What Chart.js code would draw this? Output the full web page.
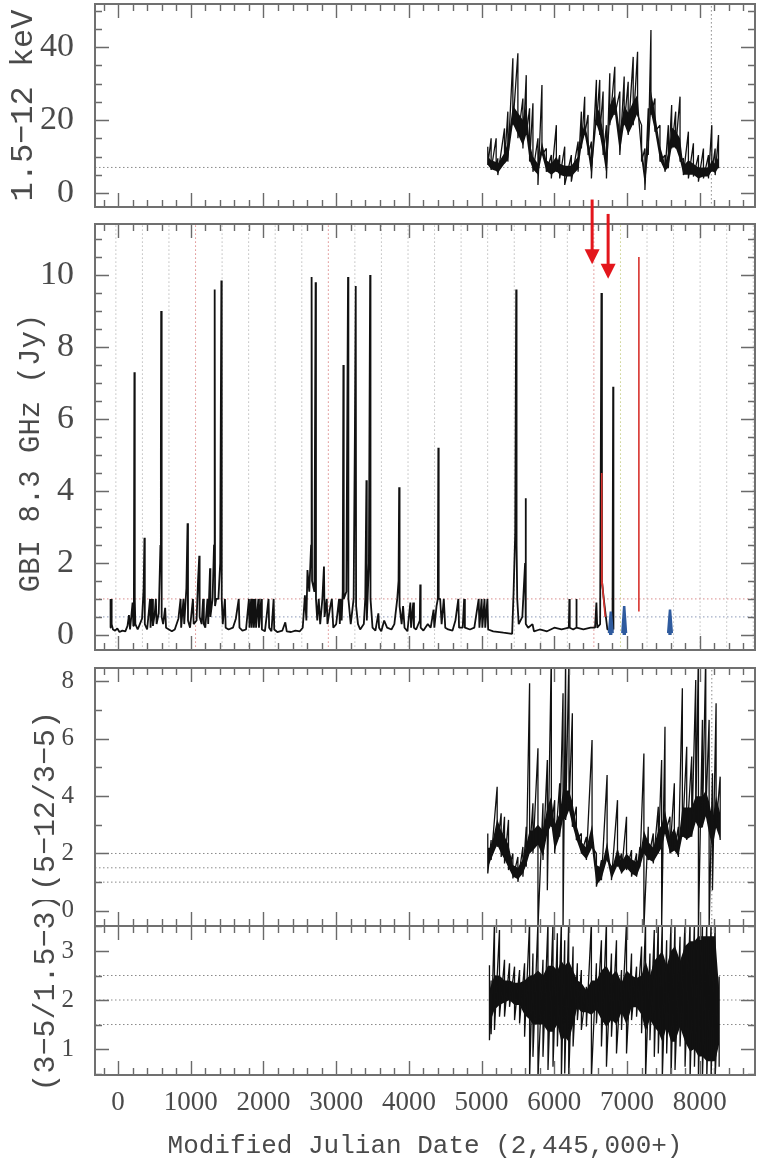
<!DOCTYPE html>
<html>
<head>
<meta charset="utf-8">
<title>GBI 8.3 GHz and X-ray light curves</title>
<script src="https://cdn.jsdelivr.net/npm/chart.js@4.4.1/dist/chart.umd.min.js"></script>
<style>
  html, body { margin: 0; padding: 0; background: #fff; }
  #wrap { position: relative; width: 759px; height: 1161px; overflow: hidden; }
  #wrap canvas { position: absolute; left: 0; }
</style>
</head>
<body>
<div id="wrap">
  <canvas id="xray" width="759" height="212" style="top:0px"></canvas>
  <canvas id="radio" width="759" height="460" style="top:195px"></canvas>
  <canvas id="hard" width="759" height="280" style="top:650px"></canvas>
  <canvas id="soft" width="759" height="261" style="top:900px"></canvas>
</div>
<script>
// ---- data (day = JD - 2,445,000) ----
const dayTicks = [0, 1000, 2000, 3000, 4000, 5000, 6000, 7000, 8000];

// 1.5-12 keV count rate: per-sample extremes and the dense core of the band
const xrayDay = [5085, 5131, 5200, 5223, 5315, 5361, 5430, 5499, 5568, 5614, 5660, 5706, 5775, 5830, 5890, 5959,
  6028, 6074, 6143, 6234, 6327, 6372, 6418, 6464, 6510, 6579, 6625, 6671, 6717, 6763, 6832, 6901, 6961, 7016,
  7085, 7145, 7200, 7246, 7292, 7329, 7384, 7453, 7522, 7568, 7614, 7669, 7729, 7775, 7844, 7913, 7982, 8051,
  8120, 8166, 8212, 8258];
const xrayHi = [12.7, 15.0, 15.0, 9.5, 17.7, 22.3, 36.9, 38.3, 25.9, 32.3, 23.2, 24.6, 15.0, 29.6, 12.2, 10.4,
  18.6, 10.4, 12.7, 10.4, 14.1, 22.3, 26.4, 21.4, 14.1, 31.0, 31.0, 27.8, 18.6, 32.8, 34.6, 27.8, 31.9, 30.5,
  37.3, 38.7, 18.6, 12.2, 23.2, 44.7, 25.9, 18.6, 10.4, 18.6, 24.1, 22.3, 26.4, 9.5, 16.8, 13.6, 10.4, 12.2,
  10.4, 18.6, 12.2, 15.9];
const xrayLo = [7.7, 6.3, 6.3, 4.9, 8.1, 8.6, 18.6, 15.0, 12.2, 15.9, 8.6, 5.8, 2.2, 10.4, 5.8, 4.0,
  5.8, 4.0, 2.2, 3.1, 5.8, 12.2, 15.9, 10.4, 4.0, 18.6, 15.9, 10.4, 4.0, 18.6, 21.4, 10.4, 18.6, 15.9,
  18.6, 21.4, 8.6, 0.8, 10.4, 21.4, 16.8, 8.6, 5.8, 6.8, 12.2, 12.2, 8.6, 4.9, 4.0, 4.5, 3.1, 4.0,
  4.0, 5.8, 4.9, 6.8];
const xrayCoreHi = [10, 9, 8.5, 8, 11, 14, 24, 22, 20, 24, 14, 10, 8, 14, 9, 8,
  10, 8, 7.5, 7.5, 10, 16, 19, 15, 9, 24, 22, 17, 10, 24, 27, 17, 24, 22,
  25, 27, 13, 6, 15, 28, 22, 13, 8, 11, 18, 17, 15, 7.5, 9, 8, 7, 7,
  7, 9, 8, 10];
const xrayCoreLo = [7.7, 6.5, 6, 5.5, 8, 9, 19, 16, 13, 16, 9, 6.5, 5, 10.5, 6, 5,
  6, 5, 4.5, 4.5, 6.5, 12.5, 16, 11, 5, 19, 16, 11, 5, 19, 22, 11, 19, 16,
  19, 22, 9, 2, 11, 22, 17, 9, 6, 7, 12.5, 12.5, 9, 5, 5, 5, 4, 4.5,
  4.5, 6, 5.5, 7];
const xrayRefY = [7];
const xrayRefDay = [8160];

// GBI 8.3 GHz flux (Jy)
const radioDay = [-110, -106, -100, -94, -88, -70, -40, -10, 20, 60, 100, 130, 150, 165, 200, 210, 218, 225, 230, 238,
  270, 300, 330, 352, 363, 368, 400, 440, 447, 470, 480, 505, 520, 530, 560, 583, 589, 593, 597, 603,
  620, 648, 660, 700, 740, 780, 830, 860, 868, 900, 910, 940, 956, 962, 990, 1030, 1040, 1080, 1100, 1117,
  1122, 1150, 1170, 1180, 1200, 1230, 1240, 1265, 1270, 1300, 1320, 1329, 1334, 1350, 1380, 1405, 1421, 1426, 1440, 1470,
  1480, 1520, 1580, 1620, 1660, 1670, 1710, 1760, 1800, 1808, 1830, 1838, 1860, 1868, 1890, 1898, 1930, 1938, 1970, 1978,
  2020, 2070, 2078, 2110, 2140, 2148, 2190, 2260, 2300, 2320, 2380, 2440, 2500, 2540, 2570, 2590, 2605, 2630, 2655, 2662,
  2668, 2700, 2717, 2722, 2740, 2760, 2780, 2810, 2832, 2840, 2870, 2880, 2920, 2940, 2960, 3000, 3040, 3050, 3060, 3075,
  3090, 3099, 3104, 3140, 3163, 3168, 3200, 3240, 3258, 3269, 3274, 3300, 3330, 3380, 3400, 3416, 3421, 3450, 3467, 3472,
  3500, 3540, 3580, 3590, 3620, 3660, 3700, 3760, 3800, 3840, 3858, 3866, 3872, 3900, 3920, 3940, 3980, 4020, 4030, 4060,
  4070, 4100, 4150, 4156, 4162, 4200, 4260, 4300, 4340, 4350, 4380, 4398, 4405, 4410, 4430, 4450, 4480, 4500, 4540, 4600,
  4640, 4680, 4690, 4740, 4760, 4770, 4840, 4900, 4960, 4970, 5000, 5010, 5040, 5050, 5080, 5090, 5160, 5300, 5420, 5440,
  5462, 5476, 5481, 5490, 5510, 5560, 5598, 5605, 5610, 5640, 5700, 5720, 5800, 5900, 6000, 6100, 6200, 6207, 6212, 6260,
  6300, 6303, 6308, 6400, 6500, 6560, 6579, 6590, 6630, 6648, 6655, 6680, 6730, 6800, 6809, 6813];
const radioFlux = [0.2, 1.0, 0.25, 1.0, 0.3, 0.15, 0.12, 0.18, 0.08, 0.12, 0.1, 0.25, 0.55, 0.15, 0.9, 0.25, 1.0, 7.3, 1.0, 0.3,
  0.15, 0.3, 0.45, 1.3, 2.7, 0.3, 0.15, 1.0, 0.2, 1.0, 0.25, 0.6, 1.0, 0.3, 0.6, 2.5, 5.0, 9.0, 2.2, 0.5,
  0.3, 0.75, 0.2, 0.15, 0.1, 0.15, 0.45, 1.0, 0.2, 1.0, 0.3, 1.3, 3.1, 0.4, 0.2, 1.0, 0.3, 0.4, 1.5, 2.2,
  0.5, 0.3, 1.0, 0.3, 0.2, 1.0, 0.3, 1.85, 0.5, 1.0, 2.5, 9.6, 0.8, 1.0, 1.0, 2.0, 9.85, 1.0, 0.3, 1.0,
  0.2, 0.15, 0.2, 0.45, 1.0, 0.2, 0.12, 0.15, 1.0, 0.2, 1.0, 0.2, 1.0, 0.2, 1.0, 0.2, 1.0, 0.2, 1.0, 0.15,
  0.1, 1.0, 0.2, 0.1, 1.0, 0.15, 0.08, 0.12, 0.35, 0.1, 0.08, 0.12, 0.1, 0.2, 1.1, 0.4, 1.8, 1.2, 2.5, 9.95,
  1.5, 1.2, 9.8, 1.0, 0.4, 1.0, 0.3, 1.0, 1.9, 0.5, 1.0, 0.3, 0.8, 1.0, 0.2, 0.3, 1.0, 0.3, 1.0, 0.4,
  1.2, 7.5, 1.0, 1.2, 9.95, 1.0, 0.3, 1.0, 5.8, 9.7, 0.8, 0.3, 0.15, 0.3, 1.0, 4.3, 0.4, 2.0, 10.0, 1.0,
  0.2, 0.12, 0.6, 0.2, 0.1, 0.4, 0.2, 0.15, 0.3, 1.0, 1.5, 4.1, 0.8, 0.3, 0.8, 0.2, 0.1, 0.9, 0.2, 0.9,
  0.2, 0.15, 0.4, 1.4, 0.2, 0.12, 0.3, 0.2, 0.7, 0.2, 0.8, 1.0, 5.2, 1.0, 1.0, 0.3, 1.0, 0.2, 0.15, 0.12,
  0.4, 1.0, 0.2, 0.2, 1.0, 0.2, 0.15, 0.2, 1.0, 0.2, 1.0, 0.2, 1.0, 0.2, 1.0, 0.15, 0.1, 0.06, 0.03, 1.2,
  2.8, 9.6, 2.5, 1.0, 0.3, 0.5, 2.0, 3.8, 0.3, 0.2, 0.3, 0.1, 0.15, 0.1, 0.2, 0.15, 0.2, 1.0, 0.2, 0.15,
  0.2, 1.0, 0.2, 0.15, 0.2, 0.2, 0.9, 0.2, 0.3, 9.5, 1.5, 1.0, 0.15, 0.12, 6.9, 0.15];
const redDay = [6645, 6652, 6656, 6700, 6900, 7163, 7163];
const redFlux = [1.4, 4.5, 1.5, 0.5, null, 0.65, 10.5];
const blueDay = [6752, 6777, 6802, 6900, 6936, 6961, 6986, 7300, 7566, 7591, 7616];
const blueFlux = [0.05, 0.65, 0.05, null, 0.05, 0.8, 0.05, null, 0.05, 0.7, 0.05];
const yearDay = [-30, 335, 700, 1431, 1796, 2161, 2527, 3257, 3622, 3988, 4353, 4718, 5083, 5449, 5814, 6179,
  7275, 7640, 8005, 8371, 8736];
const lustrumDay = [1066, 2892, 6544];
const markDay = [6910];
const fluxRefLow = [0.5];
const fluxRefHigh = [1.0];
const arrowDay = [6520, 6740];
const arrowTop = [12.1, 11.7];
const arrowTip = [10.3, 9.9];

// hardness (5-12)/(3-5)
const hardDay = [5085, 5131, 5214, 5269, 5315, 5370, 5430, 5499, 5568, 5614, 5660, 5706, 5775, 5844, 5904, 5959,
  6005, 6074, 6120, 6156, 6202, 6248, 6303, 6372, 6441, 6519, 6579, 6648, 6726, 6786, 6869, 6924, 6993, 7062,
  7131, 7177, 7232, 7292, 7361, 7430, 7476, 7522, 7591, 7651, 7706, 7761, 7821, 7890, 7945, 7982, 8037, 8083,
  8129, 8175, 8225, 8281];
const hardHi = [2.70, 2.47, 4.33, 3.40, 3.28, 3.17, 2.00, 1.88, 2.23, 2.93, 7.94, 3.75, 5.67, 3.75, 5.26, 9.0,
  3.86, 4.45, 7.59, 9.0, 9.0, 6.89, 3.63, 2.70, 2.58, 5.96, 2.00, 1.77, 4.74, 1.54, 3.86, 2.00, 3.28, 2.12,
  2.00, 2.23, 5.49, 2.93, 2.70, 3.63, 5.26, 6.42, 3.28, 4.45, 2.93, 7.76, 5.72, 5.38, 8.05, 9.0, 6.66, 9.0,
  6.66, 4.80, 7.24, 4.68];
const hardLo = [1.30, 1.77, 2.23, 1.88, 1.65, 1.42, 1.13, 1.01, 1.19, 1.54, 2.00, 2.00, -0.6, 1.77, 0.72, 2.93,
  2.00, 2.58, -0.6, 3.17, 3.52, 2.93, 2.47, 2.00, 1.77, 2.23, 0.84, 1.07, 1.77, 1.07, 1.54, 1.30, 1.42, 1.19,
  1.19, 1.54, -0.6, 1.77, 1.65, 2.00, -0.6, 2.70, 2.00, 2.12, 1.88, 2.58, 2.47, 2.58, 3.17, -0.6, 2.93, 3.40,
  -0.6, 0.72, 2.93, 2.47];
const hardCoreHi = [2.2, 2.2, 3.2, 2.8, 2.6, 2.3, 1.6, 1.5, 1.8, 2.3, 2.8, 2.8, 3.0, 2.8, 3.6, 4.0,
  3.0, 3.4, 4.2, 4.2, 4.2, 3.8, 3.0, 2.4, 2.2, 3.0, 1.6, 1.5, 2.4, 1.4, 2.2, 1.7, 2.0, 1.8,
  1.7, 1.9, 2.8, 2.4, 2.2, 2.8, 3.0, 3.5, 2.6, 2.9, 2.4, 3.6, 3.6, 3.6, 4.0, 4.0, 4.0, 4.2,
  3.8, 3.2, 4.0, 3.4];
const hardCoreLo = [1.5, 1.8, 2.3, 2.0, 1.8, 1.5, 1.2, 1.1, 1.3, 1.6, 2.0, 2.1, 2.3, 1.9, 2.7, 3.0,
  2.1, 2.6, 3.2, 3.2, 3.5, 3.0, 2.5, 2.0, 1.8, 2.2, 0.9, 1.1, 1.8, 1.1, 1.6, 1.3, 1.5, 1.3,
  1.2, 1.5, 2.0, 1.8, 1.7, 2.0, 2.2, 2.7, 2.0, 2.1, 1.9, 2.6, 2.5, 2.6, 3.1, 2.9, 2.9, 3.3,
  2.7, 2.2, 2.9, 2.5];
const hardRefY = [1, 1.5, 2];
const hardRefDay = [8166];

// softness (3-5)/(1.5-3)
const softDay = [5108, 5131, 5177, 5246, 5315, 5384, 5453, 5522, 5591, 5660, 5706, 5775, 5844, 5913, 5982, 6042,
  6097, 6143, 6198, 6258, 6317, 6372, 6441, 6510, 6579, 6648, 6717, 6786, 6855, 6924, 6993, 7062,
  7131, 7200, 7255, 7315, 7375, 7430, 7485, 7545, 7605, 7660, 7729, 7798, 7867, 7927, 7982, 8037,
  8097, 8156, 8212, 8267];
const softHi = [2.71, 2.4, 3.6, 3.43, 2.82, 2.75, 2.68, 2.61, 2.75, 3.6, 2.95, 3.6, 2.82, 3.6, 3.6, 3.36,
  3.6, 3.22, 3.6, 3.09, 2.75, 2.61, 2.27, 3.6, 2.75, 3.22, 3.6, 2.95, 3.22, 2.61, 3.6, 2.95,
  2.68, 3.09, 3.6, 2.95, 3.43, 3.6, 3.6, 3.22, 3.6, 3.6, 3.29, 3.6, 3.6, 3.6, 3.6, 3.6,
  3.6, 3.6, 3.6, 2.48];
const softLo = [1.18, 1.3, 1.39, 1.66, 1.66, 1.86, 1.59, 1.52, 1.25, 0.4, 0.84, 0.4, 0.84, 0.57, 0.64, 1.05,
  0.4, 0.5, 0.4, 1.05, 1.59, 1.39, 1.46, 0.4, 1.52, 1.05, 0.64, 1.25, 0.91, 1.39, 0.91, 1.59,
  1.66, 1.32, 0.4, 1.18, 0.84, 0.91, 0.4, 0.91, 0.4, 0.57, 1.05, 0.64, 0.4, 0.64, 0.4, 0.4,
  0.4, 0.4, 0.4, 0.64];
const softCoreHi = [2.2, 2.3, 2.5, 2.5, 2.4, 2.4, 2.35, 2.35, 2.4, 2.5, 2.5, 2.6, 2.5, 2.7, 2.7, 2.6,
  2.8, 2.7, 2.8, 2.6, 2.4, 2.35, 2.2, 2.4, 2.4, 2.6, 2.7, 2.5, 2.6, 2.35, 2.6, 2.5,
  2.45, 2.5, 2.8, 2.5, 2.8, 2.9, 3.0, 2.7, 3.0, 3.1, 2.8, 3.1, 3.2, 3.2, 3.3, 3.3,
  3.3, 3.3, 3.3, 2.2];
const softCoreLo = [1.7, 1.6, 1.8, 1.9, 1.95, 2.0, 1.9, 1.9, 1.7, 1.6, 1.5, 1.5, 1.5, 1.35, 1.35, 1.5,
  1.15, 1.25, 1.15, 1.5, 1.85, 1.75, 1.75, 1.7, 1.8, 1.6, 1.45, 1.6, 1.5, 1.75, 1.5, 1.85,
  1.85, 1.7, 1.35, 1.6, 1.45, 1.35, 1.15, 1.45, 1.15, 1.15, 1.45, 1.15, 0.95, 1.0, 0.85, 0.85,
  0.75, 0.75, 0.75, 1.1];
const softRefY = [1.5, 2, 2.5];
const softRefDay = [8166];

// ---- chart setup ----
const X_MIN = -317, X_MAX = 8760;
const INK = '#111';
const TEXT = '#4a4a4a';

const pts = (xs, ys) => xs.map((x, i) => ({ x, y: ys[i] }));
const zigzag = (xs, hi, lo) => xs.flatMap((x, i) => [{ x, y: hi[i] }, { x, y: lo[i] }]);

function line(data, color, width, extra) {
  return Object.assign({
    data, borderColor: color, borderWidth: width, pointRadius: 0, tension: 0,
    fill: false, borderJoinStyle: 'bevel', spanGaps: false, order: 1
  }, extra || {});
}
function dottedH(vals, color) {
  return vals.map(v => line([{ x: X_MIN, y: v }, { x: X_MAX, y: v }], color, 1, { borderDash: [1.5, 2.5], order: 10 }));
}
function dottedV(days, lo, hi, color) {
  return days.map(d => line([{ x: d, y: lo }, { x: d, y: hi }], color, 1, { borderDash: [1.5, 2.5], order: 10 }));
}
function band(xs, hi, lo) {
  return [
    line(pts(xs, hi), 'rgba(0,0,0,0)', 1, { fill: '+1', backgroundColor: INK, order: 2 }),
    line(pts(xs, lo), 'rgba(0,0,0,0)', 1, { order: 2 })
  ];
}

// inward tick marks on all four sides plus the frame
const frameTicks = {
  id: 'frameTicks',
  afterDraw(chart, args, o) {
    const { ctx, chartArea: a } = chart;
    const x = chart.scales.x, y = chart.scales.y;
    ctx.save();
    ctx.strokeStyle = '#6a6a6a';
    ctx.lineWidth = 1.4;
    ctx.beginPath();
    for (let v = Math.ceil(x.min / 200) * 200; v <= x.max; v += 200) {
      const px = Math.round(x.getPixelForValue(v)) + 0.5;
      const len = v % 1000 === 0 ? 14 : 7;
      ctx.moveTo(px, a.bottom); ctx.lineTo(px, a.bottom - len);
      ctx.moveTo(px, a.top); ctx.lineTo(px, a.top + len);
    }
    for (let k = Math.ceil(y.min / o.minor - 1e-6); k * o.minor <= y.max + 1e-9; k++) {
      const v = k * o.minor;
      const py = Math.round(y.getPixelForValue(v)) + 0.5;
      const r = v / o.major;
      const len = Math.abs(r - Math.round(r)) < 1e-6 ? 14 : 7;
      ctx.moveTo(a.left, py); ctx.lineTo(a.left + len, py);
      ctx.moveTo(a.right, py); ctx.lineTo(a.right - len, py);
    }
    ctx.stroke();
    ctx.lineWidth = 2;
    ctx.strokeStyle = '#707070';
    ctx.strokeRect(a.left, a.top, a.right - a.left, a.bottom - a.top);
    ctx.restore();
  }
};

// rotated y-axis captions (drawn by hand so they are not squeezed to the panel height)
const sideTitle = {
  id: 'sideTitle',
  afterDraw(chart, args, o) {
    if (!o.text) return;
    const { ctx, chartArea: a } = chart;
    ctx.save();
    ctx.translate(o.x, (a.top + a.bottom) / 2 + (o.dy || 0));
    ctx.rotate(-Math.PI / 2);
    ctx.font = o.size + 'px "Liberation Mono"';
    ctx.fillStyle = TEXT;
    ctx.textAlign = 'center';
    ctx.textBaseline = 'middle';
    ctx.fillText(o.text, 0, 0);
    ctx.restore();
  }
};

// the two red arrows above the radio flares
const arrows = {
  id: 'arrows',
  afterDraw(chart) {
    const { ctx } = chart;
    const x = chart.scales.x, y = chart.scales.y;
    ctx.save();
    ctx.strokeStyle = ctx.fillStyle = '#e3161c';
    ctx.lineWidth = 3;
    arrowDay.forEach((d, i) => {
      const px = x.getPixelForValue(d);
      const top = y.getPixelForValue(arrowTop[i]);
      const tip = y.getPixelForValue(arrowTip[i]);
      ctx.beginPath();
      ctx.moveTo(px, top); ctx.lineTo(px, tip - 12);
      ctx.stroke();
      ctx.beginPath();
      ctx.moveTo(px - 7.5, tip - 15); ctx.lineTo(px + 7.5, tip - 15); ctx.lineTo(px, tip);
      ctx.closePath();
      ctx.fill();
    });
    ctx.restore();
  }
};

function makeChart(id, datasets, o, extraPlugins) {
  return new Chart(document.getElementById(id), {
    type: 'line',
    data: { datasets },
    plugins: [frameTicks, sideTitle].concat(extraPlugins || []),
    options: {
      responsive: false,
      animation: false,
      events: [],
      layout: { padding: { top: o.padTop, bottom: o.padBottom, left: 0, right: 4 } },
      plugins: {
        legend: { display: false },
        tooltip: { enabled: false },
        frameTicks: { minor: o.minor, major: o.major },
        sideTitle: { text: o.title, size: o.titleSize, x: o.titleX, dy: o.titleDy || 0 }
      },
      scales: {
        x: {
          type: 'linear', min: X_MIN, max: X_MAX,
          display: !!o.showX,
          grid: { display: false }, border: { display: false },
          afterBuildTicks: s => { s.ticks = dayTicks.map(v => ({ value: v })); },
          ticks: {
            autoSkip: false, maxRotation: 0, minRotation: 0, padding: 4,
            color: TEXT, font: { family: 'Liberation Serif', size: 27 },
            callback: v => String(v)
          },
          title: {
            display: !!o.showX, text: 'Modified Julian Date (2,445,000+)', color: TEXT,
            font: { family: 'Liberation Mono', size: 26, lineHeight: 1 }, padding: { top: 0, bottom: 2 }
          },
          afterFit: s => { if (o.showX) { s.height = 86; s.paddingLeft = 0; s.paddingRight = 0; } }
        },
        y: {
          type: 'linear', min: o.yMin, max: o.yMax,
          grid: { display: false }, border: { display: false },
          ticks: {
            stepSize: o.major, includeBounds: false, padding: 13,
            color: TEXT, font: { family: 'Liberation Serif', size: o.tickSize }
          },
          afterFit: s => { s.width = 95; s.paddingTop = 0; s.paddingBottom = 0; }
        }
      }
    }
  });
}

// panel 1: 1.5-12 keV
makeChart('xray', [
  ...band(xrayDay, xrayCoreHi, xrayCoreLo),
  line(zigzag(xrayDay, xrayHi, xrayLo), INK, 1.3),
  ...dottedH(xrayRefY, '#8a8a8a'),
  ...dottedV(xrayRefDay, -4, 52, '#8a8a8a')
], { padTop: 4, padBottom: 5, yMin: -3.84, yMax: 51.8, major: 20, minor: 5, tickSize: 34,
     title: '1.5\u221212 keV', titleSize: 32, titleX: 24 });

// panel 2: GBI 8.3 GHz
makeChart('radio', [
  line(pts(redDay, redFlux), '#d8332e', 1.6, { order: 0 }),
  line(pts(blueDay, blueFlux), '#2f5b9e', 2.5, { order: 0, fill: 'origin', backgroundColor: '#2f5b9e' }),
  line(pts(radioDay, radioFlux), INK, 1.8),
  ...dottedH(fluxRefHigh, '#d98c8c'),
  ...dottedH(fluxRefLow, '#8c9ab8'),
  ...dottedV(yearDay, -1, 12, '#bdbdbd'),
  ...dottedV(lustrumDay, -1, 12, '#dd8a8a'),
  ...dottedV(markDay, -1, 12, '#c8cf8a')
], { padTop: 29, padBottom: 5, yMin: -0.42, yMax: 11.42, major: 2, minor: 0.5, tickSize: 34,
     title: 'GBI 8.3 GHz (Jy)', titleSize: 29, titleX: 31, titleDy: 16 }, [arrows]);

// panel 3: (5-12)/(3-5)
makeChart('hard', [
  ...band(hardDay, hardCoreHi, hardCoreLo),
  line(zigzag(hardDay, hardHi, hardLo), INK, 1.3),
  ...dottedH(hardRefY, '#8a8a8a'),
  ...dottedV(hardRefDay, -1, 9, '#8a8a8a')
], { padTop: 18, padBottom: 4, yMin: -0.53, yMax: 8.47, major: 2, minor: 1, tickSize: 25,
     title: '(5\u221212/3\u22125)', titleSize: 30, titleX: 46, titleDy: 4 });

// panel 4: (3-5)/(1.5-3)
makeChart('soft', [
  ...band(softDay, softCoreHi, softCoreLo),
  line(zigzag(softDay, softHi, softLo), INK, 1.3),
  ...dottedH(softRefY, '#8a8a8a'),
  ...dottedV(softRefDay, 0, 4, '#8a8a8a')
], { padTop: 26, padBottom: 0, yMin: 0.47, yMax: 3.51, major: 1, minor: 0.5, tickSize: 25,
     title: '(3\u22125/1.5\u22123)', titleSize: 30, titleX: 46, titleDy: -8, showX: true });
</script>
</body>
</html>
